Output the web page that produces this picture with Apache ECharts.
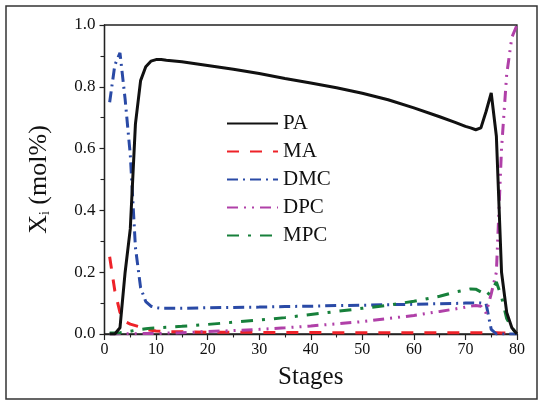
<!DOCTYPE html>
<html>
<head>
<meta charset="utf-8">
<script src="https://cdn.jsdelivr.net/npm/echarts@6/dist/echarts.min.js"></script>
<style>html,body{margin:0;padding:0;background:#fff}#c{width:542px;height:407px}</style>
</head>
<body>
<div id="c"></div>
<script>
const stages = [1,2,3,4,5,6,7,8,9,10,11,12,15,20,25,30,35,40,45,50,55,60,65,68,70,71,72,73,74,75,76,77,78,79,80];
const PA  = [0,0,0.02,0.2,0.34,0.68,0.82,0.865,0.883,0.888,0.888,0.886,0.881,0.869,0.857,0.843,0.827,0.812,0.797,0.779,0.758,0.732,0.703,0.685,0.672,0.667,0.661,0.667,0.72,0.78,0.64,0.2,0.07,0.02,0];
const MA  = [0.25,0.14,0.07,0.04,0.032,0.027,0.022,0.016,0.012,0.01,0.009,0.008,0.007,0.006,0.006,0.005,0.005,0.005,0.004,0.004,0.004,0.004,0.004,0.004,0.004,0.004,0.004,0.004,0.004,0.004,0.004,0.003,0.003,0.003,0.003];
const DMC = [0.75,0.87,0.91,0.76,0.58,0.28,0.15,0.105,0.09,0.085,0.083,0.083,0.083,0.085,0.086,0.087,0.089,0.09,0.092,0.093,0.095,0.096,0.098,0.099,0.1,0.1,0.1,0.1,0.098,0.015,0,0,0,0,0];
const DPC = [0,0,0.001,0.001,0.001,0.001,0.002,0.002,0.002,0.002,0.002,0.003,0.004,0.008,0.011,0.015,0.02,0.026,0.033,0.04,0.05,0.06,0.073,0.081,0.087,0.09,0.092,0.09,0.068,0.13,0.2,0.6,0.84,0.96,1.0];
const MPC = [0.003,0.003,0.004,0.006,0.009,0.012,0.015,0.017,0.019,0.02,0.021,0.022,0.025,0.031,0.038,0.045,0.053,0.063,0.073,0.083,0.093,0.106,0.122,0.136,0.142,0.146,0.145,0.136,0.122,0.14,0.168,0.12,0.05,0.02,0];

const names = ['PA','MA','DMC','DPC','MPC'];
const values = [PA, MA, DMC, DPC, MPC];
const colors = ['#111111','#ee2229','#2a4aa6','#b040a8','#17803b'];
const dashes = ['solid',[12,11],[11,5,2,5],[11,6,2,6,2,6],[12,9,3,9]];
const widths = [3,3,3,3,3];

const font = '"Liberation Serif", "Times New Roman", serif';

const series = names.map((n,k)=>({
  name: n,
  type: 'line',
  symbol: 'none',
  z: k===0 ? 10 : 5,
  data: stages.map((s,i)=>[s, values[k][i]]),
  lineStyle: {color: colors[k], width: widths[k], type: dashes[k]},
  itemStyle: {color: colors[k]}
}));

const chart = echarts.init(document.getElementById('c'), null, {renderer:'canvas'});
chart.setOption({
  animation: false,
  backgroundColor: '#ffffff',
  grid: {left: 104.5, right: 25, top: 25, bottom: 73, show: true, borderColor: '#222', borderWidth: 1.3, backgroundColor: 'transparent'},
  legend: {
    orient: 'vertical', left: 221, top: 108,
    itemWidth: 51, itemHeight: 14, itemGap: 7,
    itemStyle: {opacity: 0},
    textStyle: {fontFamily: font, fontSize: 21, color: '#111'},
    data: names
  },
  xAxis: {
    type: 'value', min: 0, max: 80, interval: 10,
    name: 'Stages', nameLocation: 'middle', nameGap: 31,
    nameTextStyle: {fontFamily: font, fontSize: 25, color: '#111'},
    axisLine: {show: true, onZero: false, lineStyle: {color: '#222', width: 1.3}},
    axisTick: {show: true, length: 6, lineStyle: {color: '#222', width: 1.2}},
    minorTick: {show: true, splitNumber: 2, length: 3.5, lineStyle: {color: '#222', width: 1.1}},
    axisLabel: {fontFamily: font, fontSize: 16, color: '#111', margin: 8},
    splitLine: {show: false}
  },
  yAxis: {
    type: 'value', min: 0, max: 1, interval: 0.2,
    name: '{a|X}{s|i}{a| (mol%)}', nameLocation: 'middle', nameGap: 52,
    nameTextStyle: {fontFamily: font, fontSize: 26, color: '#111',
      rich: {a: {fontFamily: font, fontSize: 26, color: '#111'}, s: {fontFamily: font, fontSize: 14, color: '#111', verticalAlign: 'bottom', padding: [12,0,0,0]}}},
    axisLine: {show: true, lineStyle: {color: '#222', width: 1.3}},
    axisTick: {show: true, length: 5, lineStyle: {color: '#222', width: 1.2}},
    minorTick: {show: true, splitNumber: 2, length: 4, lineStyle: {color: '#222', width: 1.1}},
    axisLabel: {fontFamily: font, fontSize: 17, color: '#111', margin: 9, formatter: v => v.toFixed(1)},
    splitLine: {show: false}
  },
  graphic: [{
    type: 'rect', shape: {x: 6, y: 6, width: 531, height: 393},
    style: {fill: 'none', stroke: '#333', lineWidth: 1.5}, silent: true, z: -1
  }],
  series: series
});
</script>
</body>
</html>
